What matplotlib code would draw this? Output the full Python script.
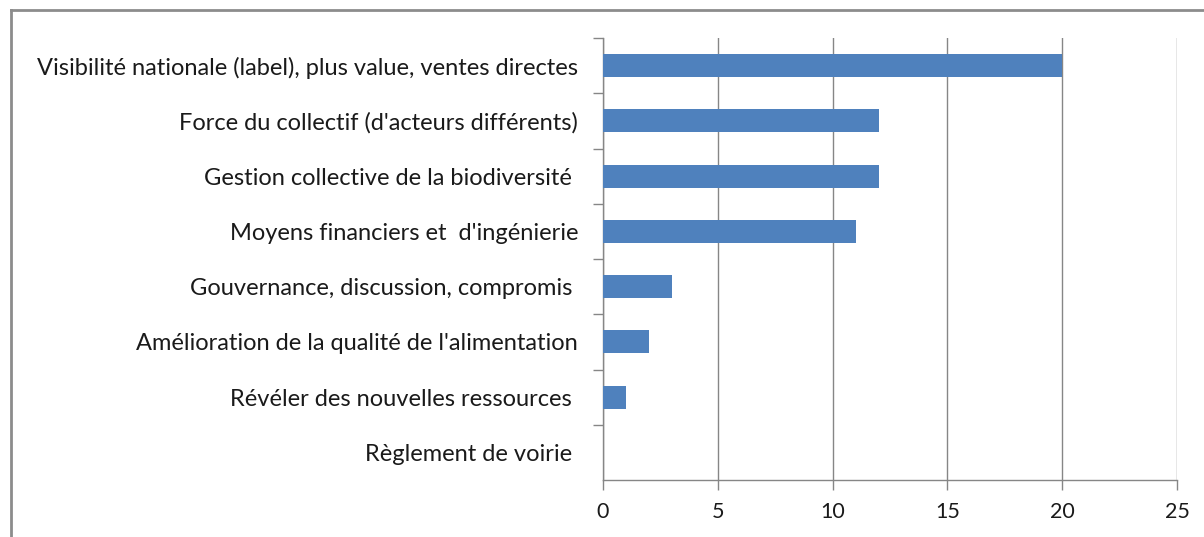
import matplotlib.pyplot as plt
from matplotlib.lines import Line2D

categories = [
    "Visibilité nationale (label), plus value, ventes directes",
    "Force du collectif (d'acteurs différents)",
    "Gestion collective de la biodiversité ",
    "Moyens financiers et  d'ingénierie",
    "Gouvernance, discussion, compromis ",
    "Amélioration de la qualité de l'alimentation",
    "Révéler des nouvelles ressources ",
    "Règlement de voirie ",
]
values = [20, 12, 12, 11, 3, 2, 1, 0]
xticks = [0, 5, 10, 15, 20, 25]

plt.rcParams['font.family'] = ['Lato', 'DejaVu Sans']
grey = '#868686'

fig = plt.figure(figsize=(12.04, 5.37), dpi=100)
ax = fig.add_axes([603 / 1204, 1 - 480 / 537, (1177 - 603) / 1204, (480 - 38) / 537])

pos = list(range(len(categories)))[::-1]
ax.barh(pos, values, height=0.42, color='#4F81BD', zorder=3)

ax.set_xlim(0, 25)
ax.set_ylim(-0.5, len(categories) - 0.5)
ax.set_xticks(xticks)
ax.set_xticklabels([str(t) for t in xticks], fontsize=15.5, color='#1a1a1a')
ax.grid(axis='x', color=grey, linewidth=1, zorder=0)

# category labels centred on bars, tick marks between categories
ax.set_yticks(pos)
ax.set_yticklabels(categories, fontsize=17, color='#1a1a1a')
ax.tick_params(axis='y', length=0, pad=18)
ax.set_yticks([p + 0.5 for p in range(len(categories))], minor=True)
ax.tick_params(axis='y', which='minor', length=7, color=grey, width=1)
ax.tick_params(axis='x', length=7, color=grey, width=1, pad=9)

for side in ['top', 'right']:
    ax.spines[side].set_visible(False)
for side in ['left', 'bottom']:
    ax.spines[side].set_color(grey)
    ax.spines[side].set_linewidth(1)

# outer chart frame
fig.add_artist(Line2D([10.5 / 1204, 10.5 / 1204], [0, 1 - 10 / 537],
                      transform=fig.transFigure, color='#8c8c8c', linewidth=2))
fig.add_artist(Line2D([10.5 / 1204, 1], [1 - 10 / 537, 1 - 10 / 537],
                      transform=fig.transFigure, color='#8c8c8c', linewidth=2))

fig.savefig('out.png', dpi=100)
